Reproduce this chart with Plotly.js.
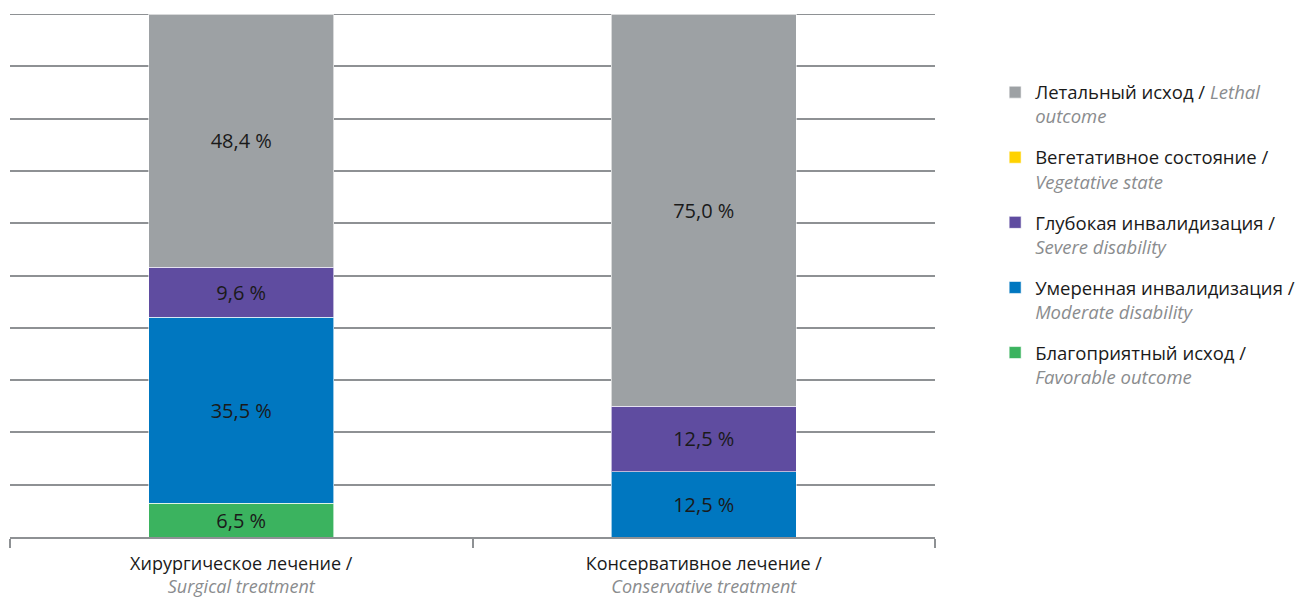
<!DOCTYPE html>
<html>
<head>
<meta charset="utf-8">
<script src="https://cdn.plot.ly/plotly-3.0.1.min.js"></script>
<style>
  html, body { margin: 0; padding: 0; background: #fff; }
  #chart { width: 1300px; height: 598px; }
</style>
</head>
<body>
<div id="chart"></div>
<script>
// Treatment groups (x categories)
const categories = [
  'Хирургическое лечение /<br><i style="color:#8a8c8e">Surgical treatment</i>',
  'Консервативное лечение /<br><i style="color:#8a8c8e">Conservative treatment</i>'
];

// Outcome shares, % (surgical, conservative)
const favorable = [6.5, null];
const moderate  = [35.5, 12.5];
const severe    = [9.6, 12.5];
const vegetative = [null, null];
const lethal    = [48.4, 75.0];

// Legend names
const names = {
  favorable: 'Благоприятный исход /<br><i style="color:#8a8c8e">Favorable outcome</i>',
  moderate: 'Умеренная инвалидизация /<br><i style="color:#8a8c8e">Moderate disability</i>',
  severe: 'Глубокая инвалидизация /<br><i style="color:#8a8c8e">Severe disability</i>',
  vegetative: 'Вегетативное состояние /<br><i style="color:#8a8c8e">Vegetative state</i>',
  lethal: 'Летальный исход / <i style="color:#8a8c8e">Lethal</i><br><i style="color:#8a8c8e">outcome</i>'
};

const colors = {
  favorable: '#3bb35f',
  moderate: '#0077c0',
  severe: '#5f4ca0',
  vegetative: '#ffd200',
  lethal: '#9da1a4'
};

// legend order, top to bottom
const legendOrder = ['lethal', 'vegetative', 'severe', 'moderate', 'favorable'];

const FONT = 'Open Sans, sans-serif';
const fmt = v => (v == null ? '' : v.toFixed(1).replace('.', ',') + ' %');

function barTrace(key, values) {
  return {
    type: 'bar',
    x: categories,
    y: values,
    name: names[key],
    legendgroup: key,
    legendrank: legendOrder.indexOf(key) + 1,
    text: values.map(fmt),
    textposition: 'inside',
    insidetextanchor: 'middle',
    constraintext: 'none',
    textangle: 0,
    insidetextfont: { family: FONT, size: 20, color: '#1a1a1a' },
    marker: { color: colors[key], line: { color: 'rgba(255,255,255,0.6)', width: 1 } },
    width: 0.4,
    hoverinfo: 'skip'
  };
}

const data = [
  barTrace('favorable', favorable),
  barTrace('moderate', moderate),
  barTrace('severe', severe),
  barTrace('vegetative', vegetative),
  barTrace('lethal', lethal)
];

const layout = {
  width: 1300,
  height: 598,
  margin: { l: 10, r: 365, t: 14, b: 61, autoexpand: false },
  paper_bgcolor: '#ffffff',
  plot_bgcolor: '#ffffff',
  barmode: 'stack',
  font: { family: FONT, size: 18.5, color: '#1a1a1a' },
  showlegend: true,
  legend: {
    x: 1.065,
    xanchor: 'left',
    y: 0.886,
    yanchor: 'top',
    traceorder: 'grouped',
    valign: 'top',
    tracegroupgap: 14,
    itemwidth: 30,
    font: { family: FONT, size: 18.5, color: '#1a1a1a' },
    bgcolor: 'rgba(0,0,0,0)'
  },
  xaxis: {
    type: 'category',
    showline: true,
    linecolor: '#8e9194',
    linewidth: 2,
    ticks: 'outside',
    tickson: 'boundaries',
    ticklen: 9,
    tickwidth: 2,
    tickcolor: '#8e9194',
    ticklabelstandoff: 9,
    showgrid: false,
    tickfont: { family: FONT, size: 18, color: '#1a1a1a' },
    fixedrange: true
  },
  yaxis: {
    range: [0, 100],
    dtick: 10,
    showticklabels: false,
    ticks: '',
    showgrid: true,
    gridcolor: '#8e9194',
    gridwidth: 2,
    zeroline: false,
    fixedrange: true
  },
  // top gridline at 100 %
  shapes: [{
    type: 'line', xref: 'paper', yref: 'y',
    x0: 0, x1: 1, y0: 100, y1: 100,
    line: { color: '#8e9194', width: 2 },
    layer: 'below'
  }]
};

Plotly.newPlot('chart', data, layout, { displayModeBar: false, staticPlot: true });
</script>
</body>
</html>
